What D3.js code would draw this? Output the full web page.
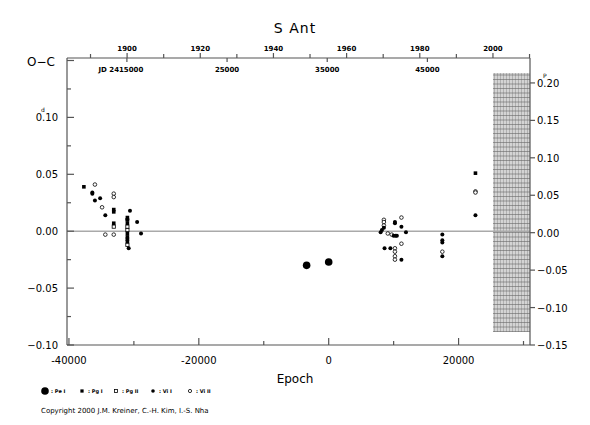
<!DOCTYPE html>
<html><head><meta charset="utf-8">
<script src="https://cdn.jsdelivr.net/npm/d3@7"></script>
<style>body{margin:0;background:#fff}text{font-family:"DejaVu Sans",sans-serif}</style>
</head><body><svg id="c" width="590" height="425"></svg>
<script>
// data: [epoch, O-C days]
var peI = [[-3400,-0.030],[0,-0.027]];
var pgI = [[-37700,0.039],[-33100,0.019],[-33100,0.017],[-33100,0.007],[-31000,0.012],[-31000,0.010],[-31000,0.007],
  [-31000,-0.002],[-31000,-0.005],[-31000,-0.007],[-31000,-0.009],[22600,0.051]];
var pgII = [[-33100,0.004],[-31000,0.004],[-31000,0.001],[-31000,-0.012]];
var viI = [[-36400,0.034],[-36400,0.033],[-36000,0.027],[-35200,0.029],[-34400,0.014],[-31000,0.010],[-30600,0.018],
  [-29500,0.008],[-28900,-0.002],[-30800,-0.015],[8200,0.001],[8000,-0.001],[8500,0.003],[10200,0.008],[10200,0.007],
  [10000,-0.004],[10300,-0.004],[10500,-0.004],[11200,0.004],[11900,-0.001],[8600,-0.015],[9500,-0.015],[11200,-0.025],
  [17500,-0.003],[17500,-0.008],[17500,-0.010],[17500,-0.022],[22600,0.014]];
var viII = [[-36000,0.041],[-33100,0.033],[-33100,0.030],[-34900,0.021],[-33100,-0.003],[-34400,-0.003],
  [8500,0.010],[8500,0.008],[8500,0.005],[9100,-0.002],[9700,-0.003],[11200,0.012],[11200,-0.011],
  [10200,-0.015],[10200,-0.018],[10200,-0.022],[10200,-0.025],[17500,-0.018],[22600,0.035],[22600,0.034]];
var yearTicks = [1900,1920,1940,1960,1980,2000];
var jdTicks = [2415000,2425000,2435000,2445000];
var period = 0.6483, T0 = 2435147;

var svg = d3.select("#c");
var L=67,R=530,T=58,B=345;
var x = d3.scaleLinear().domain([-40300,31000]).range([L,R]);
var y = d3.scaleLinear().domain([-0.1,0.1522]).range([B,T]);
var yp = d3.scaleLinear().domain([-0.15,0.2333]).range([B,T]);
var jdx = function(jd){ return x((jd-T0)/period); };
var yrx = function(yr){ return jdx(2415020.5+(yr-1900)*365.25); };
var ax = "#555";

// hatched region
var hx0 = x(25300), hx1 = R, hy0 = 73, hy1 = 332;
svg.append("rect").attr("x",hx0).attr("y",hy0).attr("width",hx1-hx0).attr("height",hy1-hy0).attr("fill","#d4d4d4");
var hg = svg.append("g").attr("stroke","#999").attr("stroke-width",0.6);
d3.range(hx0+1.5,hx1,3).forEach(function(v){hg.append("line").attr("x1",v).attr("x2",v).attr("y1",hy0).attr("y2",hy1);});
d3.range(hy0+2,hy1,4.5).forEach(function(v){hg.append("line").attr("x1",hx0).attr("x2",hx1).attr("y1",v).attr("y2",v).attr("stroke","#666");});

// zero line
svg.append("line").attr("x1",L).attr("x2",R).attr("y1",y(0)).attr("y2",y(0)).attr("stroke","#aaa").attr("stroke-width",1.5);

// frame
var fr = svg.append("g").attr("stroke",ax).attr("stroke-width",1.2);
fr.append("line").attr("x1",L).attr("x2",R).attr("y1",B).attr("y2",B);
fr.append("line").attr("x1",L).attr("x2",R).attr("y1",T).attr("y2",T);
fr.append("line").attr("x1",L).attr("x2",L).attr("y1",T).attr("y2",B);
fr.append("line").attr("x1",R).attr("x2",R).attr("y1",T).attr("y2",B);

// bottom ticks
d3.range(-40000,31000,10000).forEach(function(e){
  var big = e%20000===0;
  fr.append("line").attr("x1",x(e)).attr("x2",x(e)).attr("y1",B).attr("y2",B-(big?7:4));
  if(big) svg.append("text").attr("x",x(e)).attr("y",B+19).attr("text-anchor","middle").attr("font-size",10).text(e);
});
// left ticks
d3.range(-0.1,0.151,0.025).forEach(function(v){
  var big = Math.abs(Math.round(v*40))%2===0;
  fr.append("line").attr("x1",L).attr("x2",L+(big?7:4)).attr("y1",y(v)).attr("y2",y(v));
  if(big && v<0.14){
    var t = svg.append("text").attr("x",L-9).attr("y",y(v)+4).attr("text-anchor","end").attr("font-size",10);
    if(Math.abs(v-0.1)<1e-6){ t.text("0.10"); svg.append("text").attr("x",L-26).attr("y",y(v)-5).attr("font-size",6).text("d"); }
    else t.text(d3.format(".2f")(Math.abs(v)<1e-9?0:v).replace("-","\u2212"));
  }
});
// right ticks
d3.range(-0.15,0.201,0.05).forEach(function(v){
  fr.append("line").attr("x1",R).attr("x2",R+5).attr("y1",yp(v)).attr("y2",yp(v));
  svg.append("text").attr("x",R+7).attr("y",yp(v)+4).attr("font-size",10)
    .text(d3.format(".2f")(Math.abs(v)<1e-9?0:v).replace("-","\u2212"));
});
svg.append("text").attr("x",R+13).attr("y",yp(0.2)-5).attr("font-size",6).text("P");
// top year ticks
d3.range(1890,2011,10).forEach(function(yr){
  var big = yr%20===0, xx = yrx(yr);
  if(xx<L||xx>R) return;
  fr.append("line").attr("x1",xx).attr("x2",xx).attr("y1",T).attr("y2",T-(big?5:4));
  if(big) svg.append("text").attr("x",xx).attr("y",T-7).attr("text-anchor","middle").attr("font-size",7).attr("font-weight","bold").text(yr);
});
// top JD ticks
jdTicks.forEach(function(jd,i){
  var xx = jdx(jd);
  fr.append("line").attr("x1",xx).attr("x2",xx).attr("y1",T).attr("y2",T+4);
  svg.append("text").attr("x",xx+(i===0?-6:0)).attr("y",T+14).attr("text-anchor","middle").attr("font-size",7).attr("font-weight","bold")
    .text(i===0?"JD  "+jd:String(jd).slice(2));
});

// titles
svg.append("text").attr("x",295).attr("y",33).attr("text-anchor","middle").attr("font-size",14).attr("letter-spacing",1).text("S  Ant");
svg.append("text").attr("x",27).attr("y",66).attr("font-size",12).text("O\u2212C");
svg.append("text").attr("x",295).attr("y",383).attr("text-anchor","middle").attr("font-size",12).text("Epoch");

// points
function sym(g,type,cx,cy,s){
  if(type==="peI") g.append("circle").attr("cx",cx).attr("cy",cy).attr("r",3.8*s).attr("fill","#000");
  else if(type==="pgI") g.append("rect").attr("x",cx-1.8*s).attr("y",cy-1.8*s).attr("width",3.6*s).attr("height",3.6*s).attr("fill","#000");
  else if(type==="pgII") g.append("rect").attr("x",cx-1.6*s).attr("y",cy-1.6*s).attr("width",3.2*s).attr("height",3.2*s).attr("fill","#fff").attr("stroke","#000").attr("stroke-width",0.8);
  else if(type==="viI") g.append("circle").attr("cx",cx).attr("cy",cy).attr("r",2*s).attr("fill","#000");
  else g.append("circle").attr("cx",cx).attr("cy",cy).attr("r",1.8*s).attr("fill","#fff").attr("stroke","#000").attr("stroke-width",0.8);
}
var pg = svg.append("g");
[["viII",viII],["pgII",pgII],["viI",viI],["pgI",pgI],["peI",peI]].forEach(function(s){
  s[1].forEach(function(d){ sym(pg,s[0],x(d[0]),y(d[1]),1); });
});

// legend
var lg = svg.append("g");
[["peI",45,": Pe I"],["pgI",82,": Pg I"],["pgII",116,": Pg II"],["viI",153,": Vi I"],["viII",190,": Vi II"]].forEach(function(l){
  sym(lg,l[0],l[1],391,l[0]==="peI"?1:0.9);
  lg.append("text").attr("x",l[1]+6).attr("y",393).attr("font-size",5).attr("font-weight","bold").text(l[2]);
});
svg.append("text").attr("x",41).attr("y",413).attr("font-size",7).text("Copyright 2000 J.M. Kreiner, C.-H. Kim, I.-S. Nha");
</script></body></html>
